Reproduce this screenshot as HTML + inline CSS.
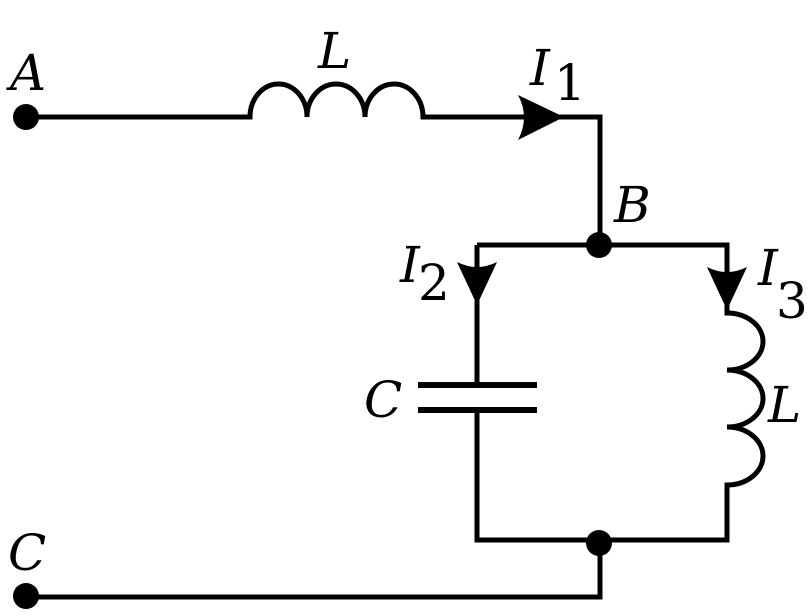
<!DOCTYPE html>
<html><head><style>
html,body{margin:0;padding:0;background:#fff;}
svg{display:block;}
text{font-family:"DejaVu Serif","Liberation Serif",serif;font-style:italic;fill:#000;}
text.n{font-style:normal;}
</style></head><body>
<svg width="811" height="616" viewBox="0 0 811 616" xmlns="http://www.w3.org/2000/svg">
<g fill="none" stroke="#000" stroke-width="5" stroke-linejoin="miter">
<path d="M26 117 H250 A28.5 33 0 0 1 307 117 A29 33 0 0 1 365 117 A29 33 0 0 1 423 117 H600 V245"/>
<path d="M477 245 H727 V313 A36 28.5 0 0 1 727 370 A36 28.5 0 0 1 727 427 A36 29 0 0 1 727 485 V540 H477 V410"/>
<path d="M477 245 V385"/>
<path d="M418 385 H537 M418 410 H537" stroke-width="6"/>
<path d="M600 540 V597 H26"/>
</g>
<g fill="#000">
<circle cx="26" cy="117" r="13"/>
<circle cx="599" cy="245" r="13"/>
<circle cx="599" cy="543" r="13"/>
<circle cx="26" cy="596" r="13"/>
<path d="M564 117 L518 95 Q530 117 518 140 Z"/>
<path d="M477 305 L457 262 Q477 272 497 262 Z"/>
<path d="M727 310 L707 267 Q727 277 747 267 Z"/>
</g>
<g font-size="50">
<text x="10" y="90">A</text>
<text x="318" y="68">L</text>
<text x="530" y="85">I</text><text class="n" x="554" y="100" style="font-style:normal">1</text>
<text x="614" y="222">B</text>
<text x="400" y="282">I</text><text class="n" x="418" y="300" style="font-style:normal">2</text>
<text x="758" y="285">I</text><text class="n" x="776" y="318" style="font-style:normal">3</text>
<text x="364" y="417">C</text>
<text x="768" y="422">L</text>
<text x="8" y="570">C</text>
</g>
</svg>
</body></html>
